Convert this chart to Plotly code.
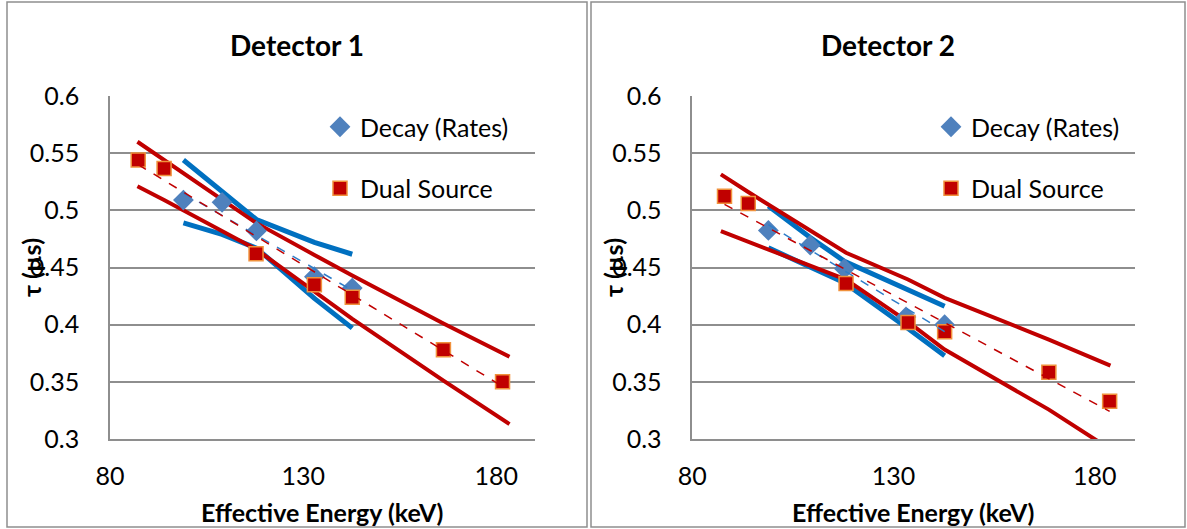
import plotly.graph_objects as go

# ---------------- data ----------------
# Detector 1
d1_decay_kev = [99.0, 109.0, 117.9, 132.9, 142.7]
d1_decay_tau = [0.509, 0.507, 0.482, 0.442, 0.432]
d1_decay_upper = [0.544, 0.516, 0.492, 0.472, 0.4616]
d1_decay_lower = [0.489, 0.479, 0.467, 0.423, 0.397]

d1_dual_kev = [87.3, 94.0, 117.8, 132.9, 142.7, 166.3, 181.6]
d1_dual_tau = [0.544, 0.5365, 0.462, 0.435, 0.424, 0.378, 0.350]
d1_band_kev = [87.1, 94.0, 117.8, 132.9, 142.7, 166.3, 183.4]
d1_dual_upper = [0.560, 0.544, 0.489, 0.461, 0.443, 0.401, 0.372]
d1_dual_lower = [0.521, 0.509, 0.466, 0.429, 0.405, 0.351, 0.313]

d1_fit_decay_kev = [99.0, 142.7]
d1_fit_decay_tau = [0.515, 0.430]
d1_fit_dual_kev = [87.3, 181.6]
d1_fit_dual_tau = [0.540, 0.346]

# Detector 2
d2_decay_kev = [98.9, 109.3, 117.8, 133.1, 142.7]
d2_decay_tau = [0.4824, 0.4695, 0.4489, 0.4068, 0.400]
d2_decay_upper = [0.5037, 0.4763, 0.4555, 0.431, 0.4161]
d2_decay_lower = [0.4672, 0.4506, 0.4366, 0.398, 0.3729]

d2_dual_kev = [88.0, 93.9, 118.2, 133.6, 142.7, 168.6, 183.7]
d2_dual_tau = [0.5124, 0.506, 0.436, 0.402, 0.3937, 0.3583, 0.333]
d2_band_kev = [87.1, 93.9, 118.2, 133.6, 142.7, 168.6, 183.9]
d2_dual_upper = [0.5314, 0.516, 0.4629, 0.4395, 0.4235, 0.387, 0.3642]
d2_dual_lower = [0.4818, 0.4726, 0.4395, 0.4024, 0.3782, 0.3257, 0.291]

d2_fit_decay_kev = [98.9, 142.7]
d2_fit_decay_tau = [0.4875, 0.394]
d2_fit_dual_kev = [88.0, 183.7]
d2_fit_dual_tau = [0.5052, 0.3242]

# axis ticks / labels
x_tick_vals = [80, 130, 180]
x_tick_text = ["80", "130", "180"]
y_tick_vals = [0.3, 0.35, 0.4, 0.45, 0.5, 0.55, 0.6]
y_tick_text = ["0.3", "0.35", "0.4", "0.45", "0.5", "0.55", "0.6"]
titles = ["Detector 1", "Detector 2"]
series_names = ["Decay (Rates)", "Dual Source"]
x_title = "Effective Energy (keV)"
y_title = "τ (µs)"

# ---------------- styling ----------------
W, H = 1187, 529
FONT = "Lato"
BLUE_BAND = "#0070C0"
RED = "#C00000"
DIAMOND = "#4F81BD"
SQ_EDGE = "#F0913C"
GRID = "#8E8E8E"
TICK_SIZE = 25
LEGEND_SIZE = 25
TITLE_SIZE = 28
AXIS_TITLE_SIZE = 25


def px(x):
    return x / W


def py(y):
    return 1 - y / H


fig = go.Figure()

panels = [
    dict(xa="x", ya="y", lg="legend",
         decay=(d1_decay_kev, d1_decay_tau, d1_decay_upper, d1_decay_lower),
         dual=(d1_dual_kev, d1_dual_tau, d1_band_kev, d1_dual_upper, d1_dual_lower),
         fit=(d1_fit_decay_kev, d1_fit_decay_tau, d1_fit_dual_kev, d1_fit_dual_tau)),
    dict(xa="x2", ya="y2", lg="legend2",
         decay=(d2_decay_kev, d2_decay_tau, d2_decay_upper, d2_decay_lower),
         dual=(d2_dual_kev, d2_dual_tau, d2_band_kev, d2_dual_upper, d2_dual_lower),
         fit=(d2_fit_decay_kev, d2_fit_decay_tau, d2_fit_dual_kev, d2_fit_dual_tau)),
]

for p in panels:
    dk, dt, du, dl = p["decay"]
    sk, st, bk, su, sl = p["dual"]
    fdk, fdt, fsk, fst = p["fit"]
    common = dict(xaxis=p["xa"], yaxis=p["ya"], showlegend=False, hoverinfo="skip")
    for band in (du, dl):
        fig.add_trace(go.Scatter(x=dk, y=band, mode="lines",
                                 line=dict(color=BLUE_BAND, width=5), **common))
    for band in (su, sl):
        fig.add_trace(go.Scatter(x=bk, y=band, mode="lines",
                                 line=dict(color=RED, width=4), **common))
    fig.add_trace(go.Scatter(x=dk, y=dt, mode="markers", name=series_names[0],
                             xaxis=p["xa"], yaxis=p["ya"], legend=p["lg"],
                             legendgroup="a",
                             marker=dict(symbol="diamond", size=16, color=DIAMOND,
                                         line=dict(width=0))))
    fig.add_trace(go.Scatter(x=sk, y=st, mode="markers", name=series_names[1],
                             xaxis=p["xa"], yaxis=p["ya"], legend=p["lg"],
                             legendgroup="b",
                             marker=dict(symbol="square", size=14, color=RED,
                                         line=dict(width=1.5, color=SQ_EDGE))))
    fig.add_trace(go.Scatter(x=fdk, y=fdt, mode="lines",
                             line=dict(color="#2F7DC8", width=1.5, dash="dash"), **common))
    fig.add_trace(go.Scatter(x=fsk, y=fst, mode="lines",
                             line=dict(color=RED, width=1.5, dash="dash"), **common))

xaxis_style = dict(range=[80, 190], tickvals=x_tick_vals, ticktext=x_tick_text,
                   showgrid=False, zeroline=False, showline=True, linecolor=GRID,
                   linewidth=1.5, ticks="", ticklabelstandoff=14, automargin=False,
                   tickfont=dict(family=FONT, size=TICK_SIZE, color="#000"), fixedrange=True)
yaxis_style = dict(range=[0.3, 0.6], tickvals=y_tick_vals, ticktext=y_tick_text,
                   showgrid=True, gridcolor=GRID, gridwidth=1.5, zeroline=False,
                   showline=True, linecolor=GRID, linewidth=1.5, ticks="",
                   ticklabelstandoff=24, automargin=False,
                   tickfont=dict(family=FONT, size=TICK_SIZE, color="#000"), fixedrange=True)

ann_common = dict(xref="paper", yref="paper", showarrow=False,
                  xanchor="center", yanchor="middle")
legend_common = dict(xanchor="left", yanchor="top", bgcolor="rgba(0,0,0,0)",
                     font=dict(family=FONT, size=LEGEND_SIZE, color="#000"),
                     tracegroupgap=26, traceorder="grouped")
y_dom = [py(439), py(96)]
fig.update_layout(
    width=W, height=H,
    autosize=False,
    margin=dict(l=0, r=0, t=0, b=0, pad=0, autoexpand=False),
    paper_bgcolor="white", plot_bgcolor="white",
    font=dict(family=FONT, color="#000"),
    xaxis=dict(domain=[px(110), px(535)], anchor="y", **xaxis_style),
    yaxis=dict(domain=y_dom, anchor="x", **yaxis_style),
    xaxis2=dict(domain=[px(692.3), px(1135)], anchor="y2", **xaxis_style),
    yaxis2=dict(domain=y_dom, anchor="x2", **yaxis_style),
    legend=dict(x=px(320), y=py(104), **legend_common),
    legend2=dict(x=px(931), y=py(104), **legend_common),
    shapes=[
        dict(type="rect", xref="paper", yref="paper", x0=px(7), x1=px(587),
             y0=py(527), y1=py(2), line=dict(color=GRID, width=1.5)),
        dict(type="rect", xref="paper", yref="paper", x0=px(591), x1=px(1185),
             y0=py(527), y1=py(2), line=dict(color=GRID, width=1.5)),
    ],
    annotations=[
        dict(text=f"<b>{titles[0]}</b>", x=px(297), y=py(45),
             font=dict(family=FONT, size=TITLE_SIZE, color="#000"), **ann_common),
        dict(text=f"<b>{titles[1]}</b>", x=px(888), y=py(45),
             font=dict(family=FONT, size=TITLE_SIZE, color="#000"), **ann_common),
        dict(text=f"<b>{x_title}</b>", x=px(321.7), y=py(511.7),
             font=dict(family=FONT, size=AXIS_TITLE_SIZE, color="#000"), **ann_common),
        dict(text=f"<b>{x_title}</b>", x=px(913), y=py(511.7),
             font=dict(family=FONT, size=AXIS_TITLE_SIZE, color="#000"), **ann_common),
        dict(text=f"<b>{y_title}</b>", x=px(31), y=py(267), textangle=-90,
             font=dict(family=FONT, size=AXIS_TITLE_SIZE, color="#000"), **ann_common),
        dict(text=f"<b>{y_title}</b>", x=px(613), y=py(267), textangle=-90,
             font=dict(family=FONT, size=AXIS_TITLE_SIZE, color="#000"), **ann_common),
    ],
)

fig.write_html(
    "out.html",
    config={"responsive": False, "displayModeBar": False},
    post_script="document.body.style.margin='0';document.body.style.overflow='hidden';",
)
